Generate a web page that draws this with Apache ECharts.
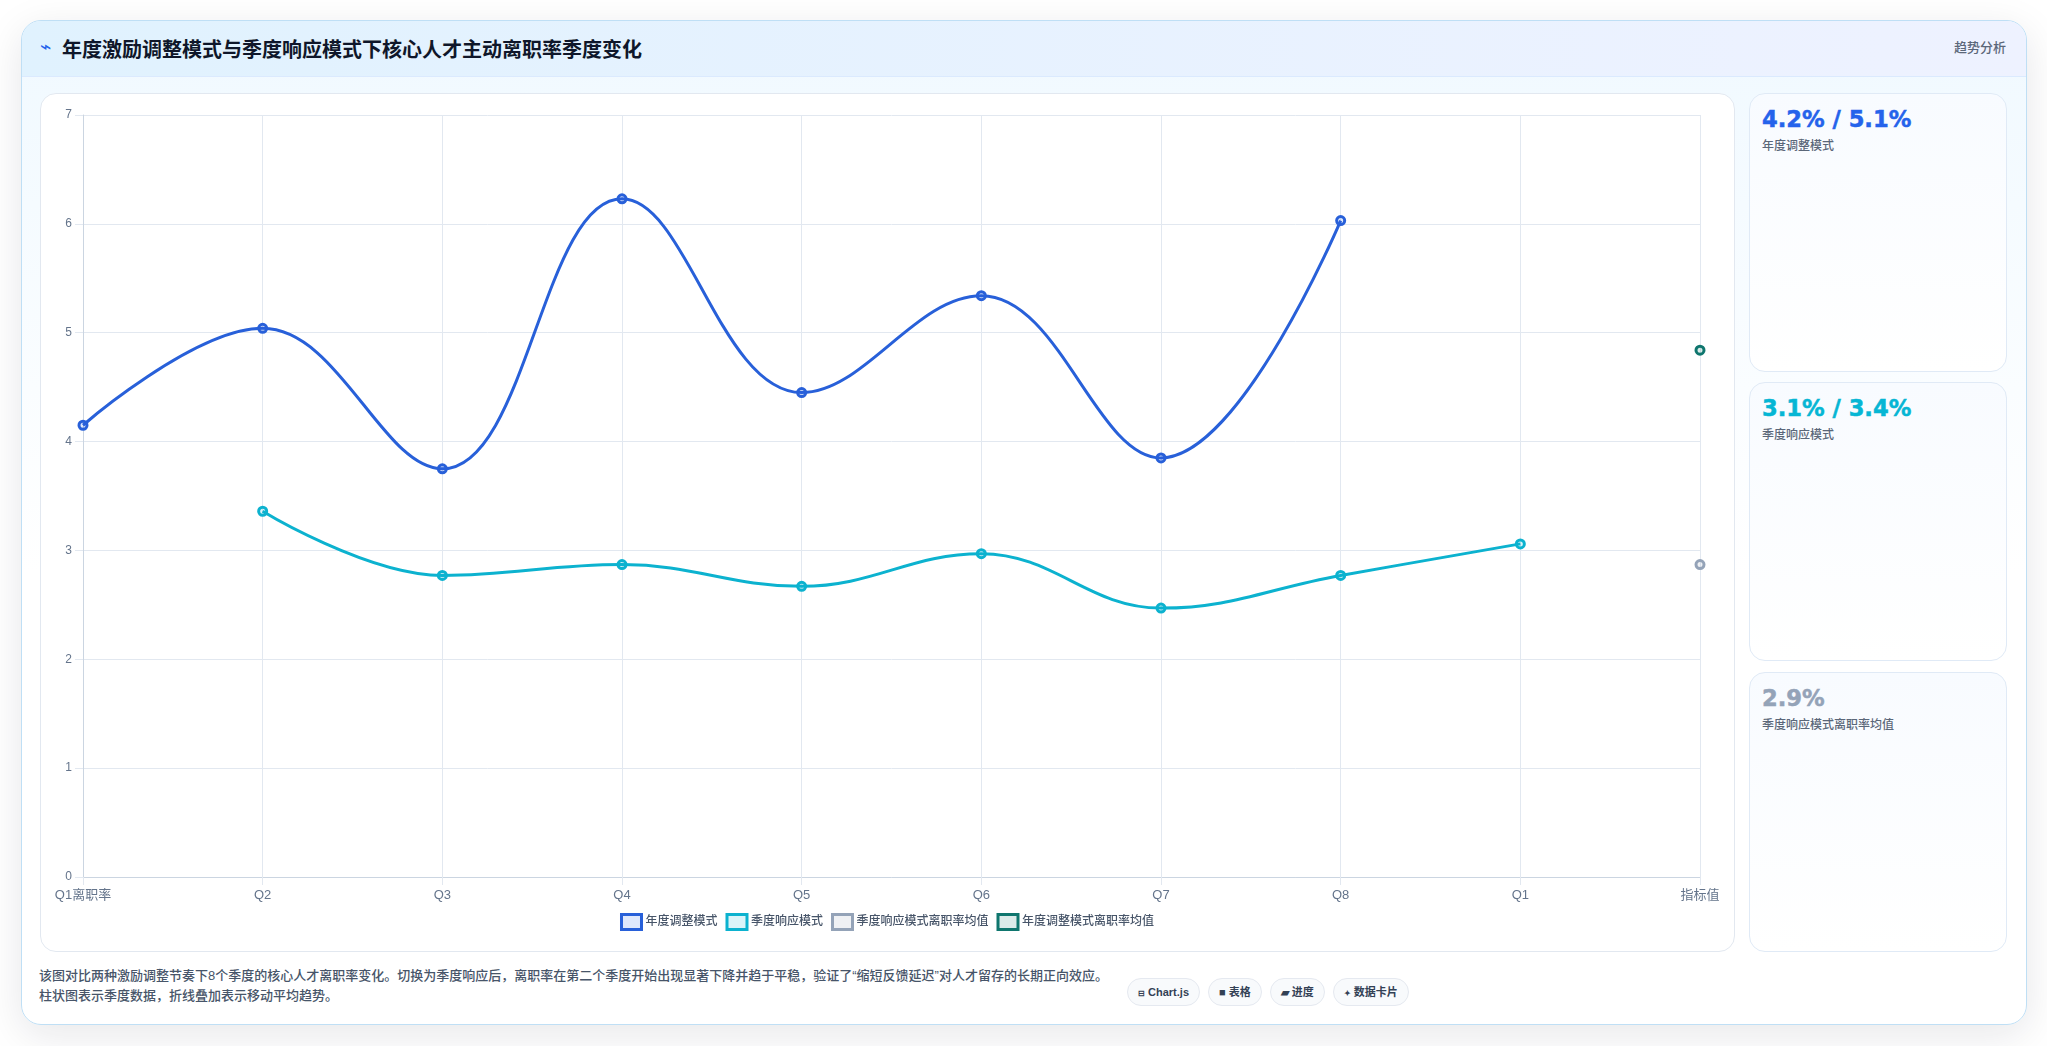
<!DOCTYPE html>
<html lang="zh-CN">
<head>
<meta charset="utf-8">
<title>核心人才主动离职率季度变化</title>
<script src="https://cdn.jsdelivr.net/npm/echarts@6/dist/echarts.min.js"></script>
<style>
  * { box-sizing: border-box; margin: 0; padding: 0; }
  html, body { width: 2047px; height: 1046px; background: #fff; overflow: hidden;
    font-family: "Liberation Sans", "Noto Sans CJK SC", sans-serif; }
  .card { position: absolute; left: 21px; top: 20px; width: 2006px; height: 1005px;
    border: 1px solid #bfdff5; border-radius: 20px; overflow: hidden;
    background: linear-gradient(180deg, #f0f9ff 0%, #ffffff 55%); }
  .shadow { position: absolute; left: 21px; top: 20px; width: 2006px; height: 1005px; border-radius: 20px;
    box-shadow: 0 10px 40px rgba(15, 23, 42, 0.1); }
  .head { position: absolute; left: 0; top: 0; right: 0; height: 56px;
    background: linear-gradient(90deg, #e0f2fe, #eef2ff);
    border-bottom: 1px solid #dbeafe; }
  .head .icon { position: absolute; left: 18px; top: 14px; font-size: 19px; line-height: 24px; color: #2563eb; }
  .head h1 { position: absolute; left: 40px; top: 15px; font-size: 20px; line-height: 28px;
    font-weight: 700; color: #0f172a; }
  .head .tag { position: absolute; right: 20px; top: 17px; font-size: 13px; line-height: 20px;
    font-weight: 500; color: #5b6779; }
  .panel { position: absolute; left: 18px; top: 72px; width: 1695px; height: 859px;
    background: #fff; border: 1px solid #e2e8f0; border-radius: 16px; }
  #chart { position: absolute; left: 39px; top: 92px; width: 1696px; height: 860px; }
  .stat { position: absolute; left: 1727px; width: 258px;
    border: 1px solid #e0eaf6; border-radius: 16px;
    background: linear-gradient(180deg, #f8fbff, #ffffff); padding: 9px 12px; }
  .stat b { display: block; font-family: "DejaVu Sans", sans-serif; font-weight: 700;
    font-size: 22.6px; line-height: 32px; -webkit-text-stroke: 0.5px currentColor; }
  .stat span { display: block; margin-top: 2px; font-size: 12px; line-height: 18px; font-weight: 500; color: #5b6779; }
  .note { position: absolute; left: 17px; top: 945px; width: 1110px; font-size: 13px; line-height: 20px;
    font-weight: 500; color: #475569; }
  .pills { position: absolute; left: 1105px; top: 957px; display: flex; gap: 8px; }
  .pills i { font-style: normal; display: block; height: 28px; line-height: 26px; padding: 0 10px;
    border: 1px solid #e5e9f0; border-radius: 14px; background: #f8fafc;
    font-size: 11px; font-weight: 700; color: #334155; white-space: nowrap; }
  .pills u { text-decoration: none; font-size: 11px; }
  .pills u.sm { font-size: 8px; }
</style>
</head>
<body>
<div class="shadow"></div>
<div class="card">
  <div class="head">
    <span class="icon">⌁</span>
    <h1>年度激励调整模式与季度响应模式下核心人才主动离职率季度变化</h1>
    <span class="tag">趋势分析</span>
  </div>
  <div class="panel"></div>
  <div class="stat" style="top:72px;height:279px"><b style="color:#2563eb">4.2% / 5.1%</b><span>年度调整模式</span></div>
  <div class="stat" style="top:361px;height:279px"><b style="color:#06b6d4">3.1% / 3.4%</b><span>季度响应模式</span></div>
  <div class="stat" style="top:651px;height:280px"><b style="color:#94a3b8">2.9%</b><span>季度响应模式离职率均值</span></div>
  <div class="note">该图对比两种激励调整节奏下8个季度的核心人才离职率变化。切换为季度响应后，离职率在第二个季度开始出现显著下降并趋于平稳，验证了“缩短反馈延迟”对人才留存的长期正向效应。<br>柱状图表示季度数据，折线叠加表示移动平均趋势。</div>
  <div class="pills"><i><u class="sm">⊟</u> Chart.js</i><i><u>■</u> 表格</i><i><u>▰</u> 进度</i><i><u class="sm">✦</u> 数据卡片</i></div>
</div>
<div id="chart"></div>
<script>
// 横轴：两种模式的季度标签，末位为指标值
const categories = ['Q1离职率', 'Q2', 'Q3', 'Q4', 'Q5', 'Q6', 'Q7', 'Q8', 'Q1', '指标值'];
const yTicks = { min: 0, max: 7, interval: 1 };
const annualMode = [4.15, 5.04, 3.75, 6.23, 4.45, 5.34, 3.85, 6.03, null, null];
const quarterlyMode = [null, 3.36, 2.77, 2.87, 2.67, 2.97, 2.47, 2.77, 3.06, null];
const quarterlyMean = [null, null, null, null, null, null, null, null, null, 2.87];
const annualMean = [null, null, null, null, null, null, null, null, null, 4.84];

const names = ['年度调整模式', '季度响应模式', '季度响应模式离职率均值', '年度调整模式离职率均值'];
const colors = ['#2860d9', '#0cb2cf', '#94a3b8', '#0f766e'];
const fills = ['rgba(37,99,235,0.15)', 'rgba(6,182,212,0.15)', 'rgba(148,163,184,0.15)', 'rgba(15,118,110,0.15)'];
const values = [annualMode, quarterlyMode, quarterlyMean, annualMean];

const chart = echarts.init(document.getElementById('chart'));
chart.setOption({
  animation: false,
  textStyle: { fontFamily: '"Liberation Sans", "Noto Sans CJK SC", sans-serif' },
  grid: { left: 44, right: 35, top: 23, bottom: 75, containLabel: false },
  legend: {
    bottom: 16, left: 'center', itemWidth: 20, itemHeight: 15, itemGap: 8,
    textStyle: { fontSize: 12, fontWeight: 500, color: '#475569', padding: [0, 0, 0, -1] },
    data: names.map((name, i) => ({
      name, icon: 'rect',
      itemStyle: { color: fills[i], borderColor: colors[i], borderWidth: 3 }
    }))
  },
  xAxis: {
    type: 'category', boundaryGap: false, data: categories,
    axisLine: { lineStyle: { color: '#cbd5e1', width: 1 } },
    axisTick: { show: true, length: 8, lineStyle: { color: '#e2e8f0' } },
    axisLabel: { color: '#64748b', fontSize: 13, margin: 12, interval: 0 },
    splitLine: { show: true, lineStyle: { color: '#e2e8f0', width: 1 } }
  },
  yAxis: {
    type: 'value', min: yTicks.min, max: yTicks.max, interval: yTicks.interval,
    axisLine: { show: true, lineStyle: { color: '#cbd5e1', width: 1 } },
    axisTick: { show: true, length: 8, lineStyle: { color: '#e2e8f0' } },
    axisLabel: { color: '#64748b', fontSize: 12, margin: 11, padding: [2, 0, 0, 0] },
    splitLine: { show: true, lineStyle: { color: '#e2e8f0', width: 1 } }
  },
  series: names.map((name, i) => ({
    name, type: 'line', data: values[i], smooth: 0.4, connectNulls: false,
    symbol: 'circle', symbolSize: 8, showSymbol: true,
    lineStyle: { color: colors[i], width: 3 },
    itemStyle: { color: fills[i], borderColor: colors[i], borderWidth: 3 }
  }))
});
</script>
</body>
</html>
